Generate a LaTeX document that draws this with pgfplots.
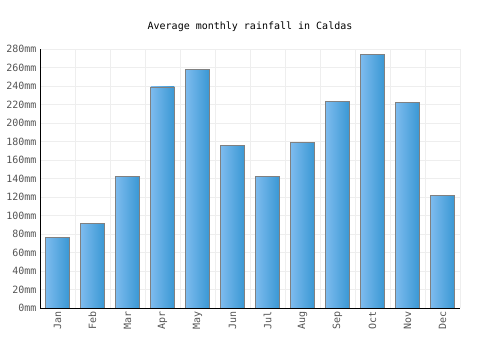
\documentclass[border=0pt]{standalone}
\usepackage{fontspec}
\setmainfont{DejaVu Sans Mono}
\usepackage{pgfplots}
\pgfplotsset{compat=1.18}
\definecolor{barL}{HTML}{7DBBEE}
\definecolor{barR}{HTML}{3A98D4}
\definecolor{gridc}{HTML}{EEEEEE}
\definecolor{labc}{HTML}{555555}
\tikzset{mybar/.style={ybar, bar width=23.5bp, bar shift=0pt, draw=gray, line width=0.8pt, left color=barL, right color=barR, mark=none}}
\begin{document}
\begin{tikzpicture}
\useasboundingbox (-40bp,-42bp) rectangle (460bp,308bp);
\begin{axis}[
  at={(0,0)}, anchor=south west,
  scale only axis, width=420bp, height=259bp,
  xmin=-0.5, xmax=11.5, ymin=0, ymax=280,
  axis x line*=bottom, axis y line*=left,
  axis line style={black, line width=1pt, -},
  xtick={0,...,11},
  xticklabels={Jan,Feb,Mar,Apr,May,Jun,Jul,Aug,Sep,Oct,Nov,Dec},
  x tick label style={rotate=90, anchor=east, font=\fontsize{10bp}{11bp}\selectfont, text=labc},
  minor xtick={0.5,1.5,...,11.5},
  ytick={0,20,...,280},
  yticklabel={\pgfmathprintnumber{\tick}mm},
  y tick label style={font=\fontsize{10bp}{11bp}\selectfont, text=labc},
  /pgf/number format/assume math mode=true,
  major tick length=0pt, minor tick length=0pt,
  ymajorgrids, xminorgrids,
  grid style={gridc, line width=0.8pt},
  minor grid style={gridc, line width=0.8pt},
  title={Average monthly rainfall in Caldas},
  title style={font=\fontsize{10bp}{11bp}\selectfont, at={(0.5,1)}, anchor=south, yshift=8bp},
]
\addplot[mybar] coordinates {(0,76)};
\addplot[mybar] coordinates {(1,91)};
\addplot[mybar] coordinates {(2,142)};
\addplot[mybar] coordinates {(3,239)};
\addplot[mybar] coordinates {(4,258)};
\addplot[mybar] coordinates {(5,176)};
\addplot[mybar] coordinates {(6,142)};
\addplot[mybar] coordinates {(7,179)};
\addplot[mybar] coordinates {(8,223)};
\addplot[mybar] coordinates {(9,274)};
\addplot[mybar] coordinates {(10,222)};
\addplot[mybar] coordinates {(11,122)};
\end{axis}
\end{tikzpicture}
\end{document}
